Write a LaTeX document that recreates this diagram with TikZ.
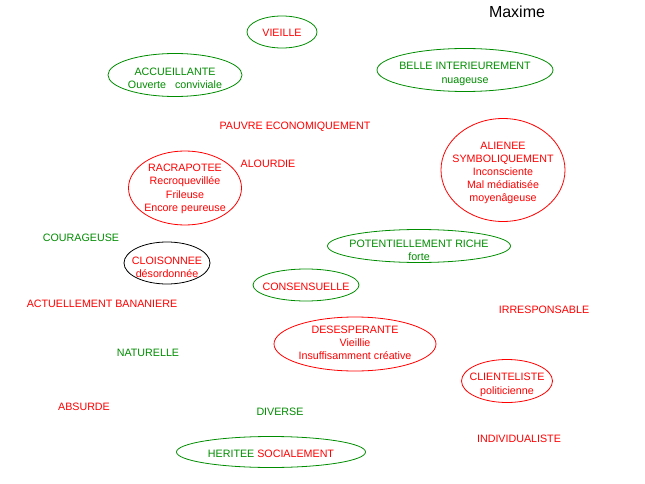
\documentclass[tikz,border=0pt]{standalone}
\usepackage{fontspec}
\setmainfont{Liberation Sans}
\usetikzlibrary{shapes.geometric}
\definecolor{vert}{RGB}{0,140,0}
\definecolor{rouge}{RGB}{255,0,0}

\begin{document}
\begin{tikzpicture}[x=1pt,y=-1pt,
		mot/.style={font=\fontsize{10.7}{13.3}\selectfont,align=center,inner sep=0pt},
		bulle/.style={ellipse,draw,line width=0.8pt,inner sep=0pt}]
		\useasboundingbox (0,0) rectangle (645,484);
		\node[font=\fontsize{16}{19}\selectfont] (maxime) at (517,12) {Maxime};

		% les bulles
		\node[bulle,draw=vert,minimum width=70pt,minimum height=32pt] (vieille) at (282,32) {};
		\node[bulle,draw=vert,minimum width=134pt,minimum height=43pt] (accueillante) at (175,75) {};
		\node[bulle,draw=vert,minimum width=176pt,minimum height=43pt] (belle) at (465,70) {};
		\node[bulle,draw=rouge,minimum width=113pt,minimum height=74pt] (racrapotee) at (185,188) {};
		\node[bulle,draw=rouge,minimum width=124pt,minimum height=103pt] (alienee) at (503,170) {};
		\node[bulle,draw=vert,minimum width=183pt,minimum height=33pt] (riche) at (419,246) {};
		\node[bulle,draw=black,minimum width=86pt,minimum height=42pt] (cloisonnee) at (167,263) {};
		\node[bulle,draw=vert,minimum width=106pt,minimum height=32pt] (consensuelle) at (306,285) {};
		\node[bulle,draw=rouge,minimum width=162pt,minimum height=54pt] (desesperante) at (355,344) {};
		\node[bulle,draw=rouge,minimum width=91pt,minimum height=43pt] (clienteliste) at (507,381) {};
		\node[bulle,draw=vert,minimum width=189pt,minimum height=31pt] (heritee) at (271,452) {};

		% les textes des bulles
		\node[mot,text=rouge,yshift=-1pt] (vieille-t) at (vieille) {VIEILLE};
		\node[mot,text=vert,yshift=-3pt] (accueillante-t) at (accueillante) {ACCUEILLANTE\\Ouverte\hspace{9pt}conviviale};
		\node[mot,text=vert,yshift=-4pt] (belle-t) at (belle) {BELLE INTERIEUREMENT\\nuageuse};
		\node[mot,text=rouge,yshift=-1pt] (racrapotee-t) at (racrapotee) {RACRAPOTEE\\Recroquevillée\\Frileuse\\Encore peureuse};
		\node[mot,text=rouge,yshift=-3pt,font=\fontsize{10.7}{12.8}\selectfont] (alienee-t) at (alienee) {ALIENEE\\SYMBOLIQUEMENT\\Inconsciente\\Mal médiatisée\\moyenâgeuse};
		\node[mot,text=vert,yshift=-4pt] (riche-t) at (riche) {POTENTIELLEMENT RICHE\\forte};
		\node[mot,text=rouge,yshift=-4pt] (cloisonnee-t) at (cloisonnee) {CLOISONNEE\\désordonnée};
		\node[mot,text=rouge,yshift=-2pt] (consensuelle-t) at (consensuelle) {CONSENSUELLE};
		\node[mot,text=rouge,yshift=1pt] (desesperante-t) at (desesperante) {DESESPERANTE\\Vieillie\\Insuffisamment créative};
		\node[mot,text=rouge,yshift=-4pt] (clienteliste-t) at (clienteliste) {CLIENTELISTE\\politicienne};
		\node[mot,yshift=-2pt] (heritee-t) at (heritee) {\textcolor{vert}{HERITEE} \textcolor{rouge}{SOCIALEMENT}};

		% les mots seuls
		\node[mot,text=rouge] (pauvre) at (295,126.5) {PAUVRE ECONOMIQUEMENT};
		\node[mot,text=rouge] (alourdie) at (268,163.5) {ALOURDIE};
		\node[mot,text=vert] (courageuse) at (81,237.5) {COURAGEUSE};
		\node[mot,text=rouge] (bananiere) at (102,303.5) {ACTUELLEMENT BANANIERE};
		\node[mot,text=rouge] (irresponsable) at (544,309.5) {IRRESPONSABLE};
		\node[mot,text=vert] (naturelle) at (148,352.5) {NATURELLE};
		\node[mot,text=rouge] (absurde) at (84,406.5) {ABSURDE};
		\node[mot,text=vert] (diverse) at (280,411.5) {DIVERSE};
		\node[mot,text=rouge] (individualiste) at (519,438.5) {INDIVIDUALISTE};
	\end{tikzpicture}
\end{document}
